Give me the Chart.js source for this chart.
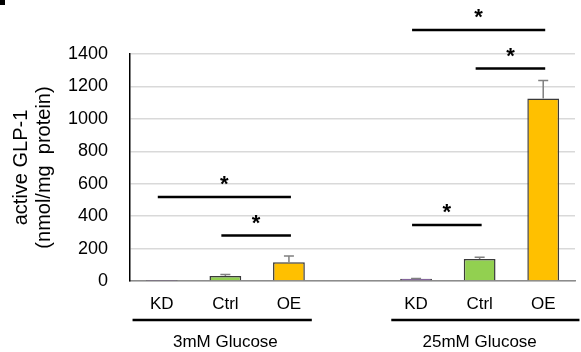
<!DOCTYPE html>
<html>
<head>
<meta charset="utf-8">
<script src="https://cdn.jsdelivr.net/npm/chart.js@4.4.0/dist/chart.umd.min.js"></script>
<style>
  html, body { margin: 0; padding: 0; background: #fff; }
  #wrap { width: 581px; height: 352px; position: relative; }
</style>
</head>
<body>
<div id="wrap"><canvas id="glpChart"></canvas></div>
<script>
// categories (blank slot separates the two glucose groups)
const categories = ['KD', 'Ctrl', 'OE', '', 'KD', 'Ctrl', 'OE'];
const values = [2, 31, 116, null, 14, 136, 1125];
const errors = [0, 9, 38, null, 2, 11, 111];
const yTicks = [0, 200, 400, 600, 800, 1000, 1200, 1400];

// significance brackets: [from index, to index, height]
const sigFrom = [0, 1, 4, 5, 4];
const sigTo = [2, 2, 6, 6, 5];
const sigLevel = [518, 280, 1548, 1310, 345];

const groupNames = ['3mM Glucose', '25mM Glucose'];
const groupFrom = [0, 4];
const groupTo = [2, 6];

const barColors = ['#7030A0', '#92D050', '#FFC000', '#fff', '#7030A0', '#92D050', '#FFC000'];
const FONT = '"Liberation Sans", Arial, sans-serif';

const annotations = {
    id: 'annotations',
    afterDatasetsDraw(chart) {
        const ctx = chart.ctx;
        const x = chart.scales.x, y = chart.scales.y;
        ctx.save();

        // error bars
        ctx.strokeStyle = '#808080';
        ctx.lineWidth = 1.5;
        values.forEach((v, i) => {
            if (v == null || !errors[i]) return;
            const cx = x.getPixelForValue(i);
            const top = y.getPixelForValue(v + errors[i]);
            const base = y.getPixelForValue(v);
            ctx.beginPath();
            ctx.moveTo(cx, base);
            ctx.lineTo(cx, top);
            ctx.moveTo(cx - 5, top);
            ctx.lineTo(cx + 5, top);
            ctx.stroke();
        });

        // significance lines + stars
        ctx.strokeStyle = '#000';
        ctx.fillStyle = '#000';
        ctx.lineWidth = 2.5;
        ctx.font = 'bold 22px ' + FONT;
        ctx.textAlign = 'center';
        ctx.textBaseline = 'middle';
        sigLevel.forEach((lvl, k) => {
            const x1 = x.getPixelForValue(sigFrom[k]) - 4;
            const x2 = x.getPixelForValue(sigTo[k]) + 2;
            const yy = y.getPixelForValue(lvl);
            ctx.beginPath();
            ctx.moveTo(x1, yy);
            ctx.lineTo(x2, yy);
            ctx.stroke();
            ctx.fillText('*', (x1 + x2) / 2, yy - 12);
        });

        // group underlines and labels
        const step = x.getPixelForValue(1) - x.getPixelForValue(0);
        const leftPad = [0.46, 0.39];
        const rightPad = [0.36, 0.57];
        ctx.font = '17px ' + FONT;
        ctx.lineWidth = 2.5;
        groupNames.forEach((name, g) => {
            const a = x.getPixelForValue(groupFrom[g]) - step * leftPad[g];
            const b = x.getPixelForValue(groupTo[g]) + step * rightPad[g];
            ctx.beginPath();
            ctx.moveTo(a, 320);
            ctx.lineTo(b, 320);
            ctx.stroke();
            const mid = (x.getPixelForValue(groupFrom[g]) + x.getPixelForValue(groupTo[g])) / 2;
            ctx.fillText(name, mid, 342);
        });

        // cut-off panel letter in the corner
        ctx.fillRect(0, 0, 5, 5);
        ctx.restore();
    }
};

new Chart(document.getElementById('glpChart').getContext('2d'), {
    type: 'bar',
    data: {
        labels: categories,
        datasets: [{
            data: values,
            backgroundColor: barColors,
            borderColor: '#3a3a3a',
            borderWidth: 1.5,
            categoryPercentage: 1,
            barPercentage: 0.5
        }]
    },
    options: {
        responsive: true,
        maintainAspectRatio: false,
        animation: false,
        layout: { padding: { left: 0, right: 6, top: 54, bottom: 0 } },
        plugins: {
            legend: { display: false },
            tooltip: { enabled: false }
        },
        scales: {
            x: {
                grid: { display: false, drawTicks: false },
                border: { color: '#8c8c8c', width: 1.5 },
                ticks: {
                    color: '#000',
                    padding: 13,
                    maxRotation: 0,
                    font: { family: FONT, size: 17 }
                },
                afterFit: s => { s.height = 71; }
            },
            y: {
                min: 0,
                max: 1400,
                afterBuildTicks: s => { s.ticks = yTicks.map(v => ({ value: v })); },
                grid: { color: '#d9d9d9', lineWidth: 1.5, drawTicks: false },
                border: { color: '#000', width: 1.5 },
                ticks: {
                    color: '#000',
                    padding: 22,
                    callback: v => String(v),
                    font: { family: FONT, size: 18 }
                },
                title: {
                    display: true,
                    text: ['active GLP-1', '(nmol/mg  protein)'],
                    color: '#000',
                    padding: { top: 10, bottom: 0 },
                    font: { family: FONT, size: 20, lineHeight: 1.15 }
                },
                afterFit: s => { s.width = 130; }
            }
        }
    },
    plugins: [annotations]
});
</script>
</body>
</html>
